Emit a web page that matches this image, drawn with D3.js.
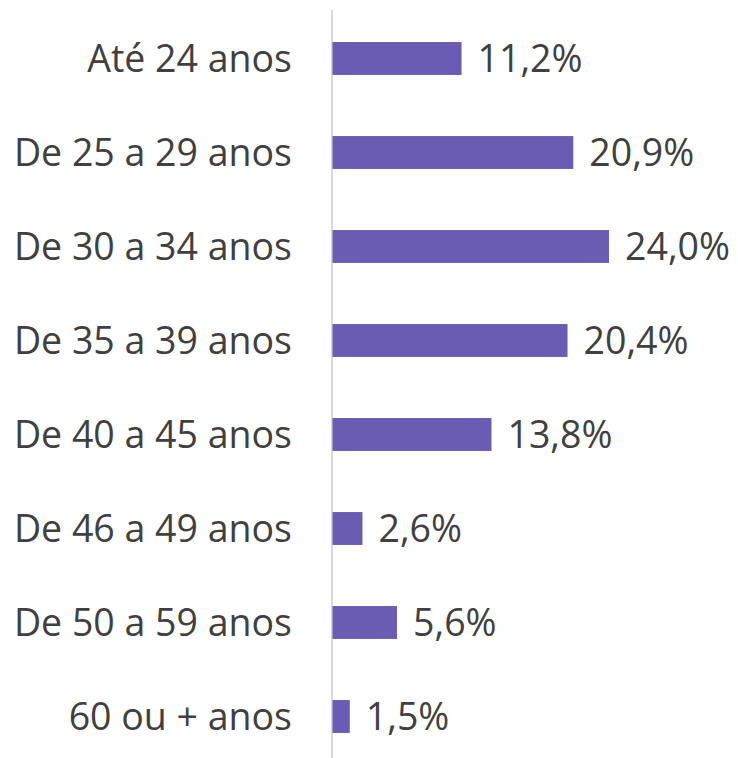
<!DOCTYPE html>
<html><head><meta charset="utf-8">
<script src="https://cdn.jsdelivr.net/npm/d3@7"></script>
<style>body{margin:0;background:#fff}svg{display:block}</style>
</head><body>
<script>
const categories = ["Até 24 anos","De 25 a 29 anos","De 30 a 34 anos","De 35 a 39 anos","De 40 a 45 anos","De 46 a 49 anos","De 50 a 59 anos","60 ou + anos"];
const values = [11.2, 20.9, 24.0, 20.4, 13.8, 2.6, 5.6, 1.5];
const valueLabels = ["11,2%","20,9%","24,0%","20,4%","13,8%","2,6%","5,6%","1,5%"];

const W = 738, H = 758;
const svg = d3.select("body").append("svg").attr("width", W).attr("height", H);
const x = d3.scaleLinear().domain([0, 24]).range([332.5, 609]);
const y = d3.scaleBand().domain(categories).range([11.5, 763.5]).paddingInner(0.65).paddingOuter(0.325);
const font = "'Open Sans', sans-serif";
const fs = 37.5;

svg.append("line").attr("x1", 332).attr("x2", 332).attr("y1", 10).attr("y2", H)
  .attr("stroke", "#d9d9d9").attr("stroke-width", 2);

categories.forEach((c, i) => {
  svg.append("rect").attr("x", x(0)).attr("y", y(c)).attr("width", x(values[i]) - x(0))
    .attr("height", y.bandwidth()).attr("fill", "#6a5cb2");
  svg.append("text").attr("x", x(values[i]) + 16).attr("y", y(c) + y.bandwidth()/2)
    .attr("dy", "0.36em").attr("font-family", font).attr("font-size", fs).attr("fill", "#404040")
    .text(valueLabels[i]);
  svg.append("text").attr("x", 292).attr("y", y(c) + y.bandwidth()/2)
    .attr("dy", "0.36em").attr("text-anchor", "end").attr("font-family", font).attr("font-size", fs).attr("fill", "#404040")
    .text(c);
});
</script>
</body></html>
